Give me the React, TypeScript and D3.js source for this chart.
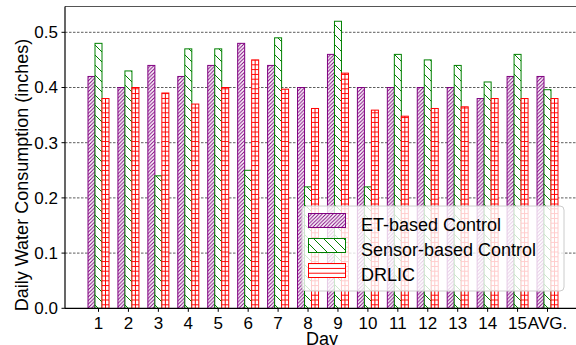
import React from 'react';
import * as d3 from 'd3';

const days = ['1', '2', '3', '4', '5', '6', '7', '8', '9', '10', '11', '12', '13', '14', '15', 'AVG.'];
const etBased = [0.42, 0.40, 0.44, 0.42, 0.44, 0.48, 0.44, 0.40, 0.46, 0.40, 0.40, 0.40, 0.40, 0.38, 0.42, 0.42];
const sensorBased = [0.48, 0.43, 0.24, 0.47, 0.47, 0.25, 0.49, 0.22, 0.52, 0.22, 0.46, 0.45, 0.44, 0.41, 0.46, 0.396];
const drlic = [0.38, 0.40, 0.39, 0.37, 0.40, 0.45, 0.397, 0.362, 0.426, 0.359, 0.348, 0.362, 0.365, 0.38, 0.38, 0.38];
const yTicks = [0.0, 0.1, 0.2, 0.3, 0.4, 0.5];

const W = 576, H = 345;
const left = 65, right = 590, top = 6.5, bottom = 308.3;
const font = '"Liberation Sans", Arial, sans-serif';

const series = [
  {name: 'ET-based Control', values: etBased, color: '#800080', pat: 'hatch-et'},
  {name: 'Sensor-based Control', values: sensorBased, color: '#008000', pat: 'hatch-sensor'},
  {name: 'DRLIC', values: drlic, color: '#ff0000', pat: 'hatch-drlic'},
];

export default function App() {
  const x = d3.scaleLinear().domain([0, days.length - 1]).range([98.5, 547.5]);
  const y = d3.scaleLinear().domain([0, 0.5]).range([bottom, 32.3]);
  const bw = 7;

  return (
    <svg width={W} height={H} style={{position: 'absolute', left: 0, top: 0, background: '#fff'}}
         fontFamily={font}>
      <defs>
        <pattern id="hatch-et" patternUnits="userSpaceOnUse" width={3.6} height={3.6}>
          <rect width={3.6} height={3.6} fill="#fff"/>
          <path d="M-0.9,0.9 L0.9,-0.9 M0,3.6 L3.6,0 M2.7,4.5 L4.5,2.7" stroke="#800080" strokeWidth={1}/>
        </pattern>
        <pattern id="hatch-sensor" patternUnits="userSpaceOnUse" width={10} height={10}>
          <rect width={10} height={10} fill="#fff"/>
          <path d="M0,0 L10,10 M-1,9 L1,11 M9,-1 L11,1" stroke="#008000" strokeWidth={1}/>
        </pattern>
        <pattern id="hatch-drlic" patternUnits="userSpaceOnUse" width={10} height={4.8}>
          <rect width={10} height={4.8} fill="#fff"/>
          <path d="M0,2.4 L10,2.4" stroke="#ff0000" strokeWidth={1}/>
        </pattern>
        <clipPath id="plot-clip">
          <rect x={left} y={top} width={right - left} height={bottom - top}/>
        </clipPath>
      </defs>

      {/* gridlines */}
      <g clipPath="url(#plot-clip)">
        {yTicks.slice(1).map(t => (
          <line key={t} x1={left} x2={right} y1={y(t)} y2={y(t)} stroke="#333" strokeWidth={0.8}
                strokeDasharray="2.5,1.5"/>
        ))}
      </g>

      {/* bars */}
      <g>
        {series.map((s, si) => (
          <g key={s.name}>
            {s.values.map((v, i) => {
              const x0 = x(i) + (si - 1.5) * bw;
              return (
                <g key={i}>
                  <rect x={x0} y={y(v)} width={bw} height={y(0) - y(v)} fill={`url(#${s.pat})`}
                        stroke={s.color} strokeWidth={1}/>
                  {si === 2 && (
                    <line x1={x0 + bw / 2} x2={x0 + bw / 2} y1={y(v)} y2={y(0)} stroke={s.color} strokeWidth={1}/>
                  )}
                </g>
              );
            })}
          </g>
        ))}
      </g>

      {/* axes */}
      <line x1={left} x2={W} y1={top} y2={top} stroke="#555" strokeWidth={1.2}/>
      <line x1={left} x2={left} y1={top} y2={bottom} stroke="#000" strokeWidth={1.2}/>
      <line x1={left} x2={W} y1={bottom} y2={bottom} stroke="#000" strokeWidth={1.2}/>

      {yTicks.map(t => (
        <g key={t}>
          <line x1={left - 3.5} x2={left} y1={y(t)} y2={y(t)} stroke="#000" strokeWidth={1}/>
          <text x={58} y={y(t)} dy="0.35em" textAnchor="end" fontSize={17}>{d3.format('.1f')(t)}</text>
        </g>
      ))}
      {days.map((d, i) => (
        <g key={d}>
          <line x1={x(i)} x2={x(i)} y1={bottom} y2={bottom + 3.5} stroke="#000" strokeWidth={1}/>
          <text x={x(i)} y={328.5} textAnchor="middle" fontSize={17}>{d}</text>
        </g>
      ))}

      <text x={322} y={345} textAnchor="middle" fontSize={18}>Day</text>
      <text transform="translate(27.5,175) rotate(-90)" textAnchor="middle" fontSize={18}>
        Daily Water Consumption (inches)
      </text>

      {/* legend */}
      <g>
        <rect x={302} y={206} width={262} height={85} rx={4} fill="#fff" fillOpacity={0.8}
              stroke="#cccccc" strokeWidth={1}/>
        {series.map((s, si) => (
          <g key={s.name} transform={`translate(0,${si * 25})`}>
            <rect x={308.5} y={213.5} width={37} height={14} fill={`url(#${s.pat})`} stroke={s.color}
                  strokeWidth={1}/>
            <text x={361} y={230.5} fontSize={18}>{s.name}</text>
          </g>
        ))}
      </g>
    </svg>
  );
}
